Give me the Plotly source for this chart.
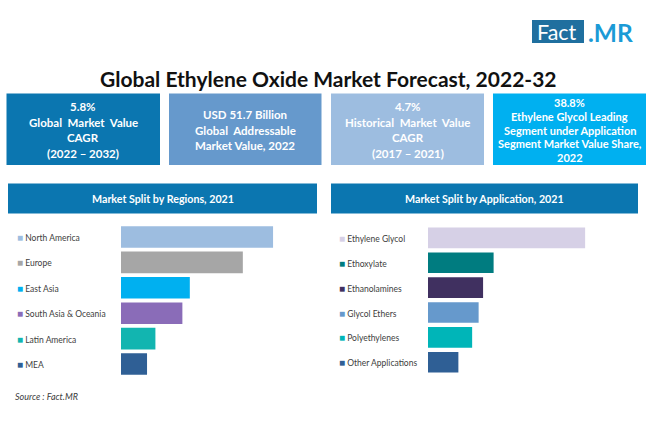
import plotly.graph_objects as go

W, H = 650, 443
FONT = "Lato"

# ============================
# data (share in %)
# ============================
regioes = ["North America", "Europe", "East Asia", "South Asia & Oceania", "Latin America", "MEA"]
regioes_valor = [32.7, 26.2, 14.8, 13.2, 7.4, 5.6]
regioes_cor = ["#9dbde0", "#a6a6a6", "#00b0f0", "#8a6cb8", "#12b5b0", "#2f5f95"]

aplicacoes = ["Ethylene Glycol", "Ethoxylate", "Ethanolamines", "Glycol Ethers", "Polyethylenes", "Other Applications"]
aplicacoes_valor = [38.8, 16.2, 13.6, 12.5, 10.9, 7.5]
aplicacoes_cor = ["#d6d0e6", "#007c80", "#403060", "#6699cc", "#00b5b8", "#2f5f95"]

cards = [
    ["5.8%", "Global  Market  Value", "CAGR", "(2022 – 2032)"],
    ["USD 51.7 Billion", "Global  Addressable", "Market Value, 2022"],
    ["4.7%", "Historical  Market  Value", "CAGR", "(2017 – 2021)"],
    ["38.8%", "Ethylene Glycol Leading", "Segment under Application", "Segment Market Value Share,", "2022"],
]
cards_cor = ["#0b76b0", "#6699cc", "#9dbde0", "#00b0f0"]
cards_x = [(6.5, 160), (169, 321.5), (331, 484), (493, 646)]


def px_x(x):
    return x / W


def px_y(y):
    return 1 - y / H


def caixa(x0, y0, x1, y1, cor):
    return dict(type="rect", xref="paper", yref="paper", layer="below",
                x0=px_x(x0), x1=px_x(x1), y0=px_y(y1), y1=px_y(y0),
                fillcolor=cor, line_width=0)


def texto(x, y, txt, size, cor="#ffffff", bold=False, anchor="center", italic=False):
    if bold:
        txt = "<b>" + txt + "</b>"
    if italic:
        txt = "<i>" + txt + "</i>"
    return dict(xref="paper", yref="paper", x=px_x(x), y=px_y(y), text=txt, showarrow=False,
                xanchor=anchor, yanchor="middle", align=anchor,
                font=dict(family=FONT, size=size, color=cor))


fig = go.Figure()

# ============================
# bars
# ============================
fig.add_trace(go.Bar(x=regioes_valor, y=regioes, orientation="h", xaxis="x", yaxis="y",
                     marker=dict(color=regioes_cor, line_width=0), width=0.85, showlegend=False))
fig.add_trace(go.Bar(x=aplicacoes_valor, y=aplicacoes, orientation="h", xaxis="x2", yaxis="y2",
                     marker=dict(color=aplicacoes_cor, line_width=0), width=0.83, showlegend=False))

eixo_x = dict(visible=False, fixedrange=True)
eixo_y = dict(visible=False, autorange=False, fixedrange=True)

fig.update_layout(
    width=W, height=H,
    margin=dict(l=0, r=0, t=0, b=0),
    paper_bgcolor="white", plot_bgcolor="white",
    xaxis=dict(eixo_x, domain=[px_x(121), px_x(300)], range=[0, 179 / 4.65]),
    yaxis=dict(eixo_y, domain=[px_y(376.7), px_y(224.3)], range=[5.5, -0.5], categoryorder="array", categoryarray=regioes),
    xaxis2=dict(eixo_x, domain=[px_x(428), px_x(630)], range=[0, 202 / 4.05], anchor="y2"),
    yaxis2=dict(eixo_y, domain=[px_y(374.7), px_y(225.5)], range=[5.5, -0.5], anchor="x2", categoryorder="array", categoryarray=aplicacoes),
)

# ============================
# boxes and text
# ============================
shapes = [caixa(532, 20, 584, 43, "#1f6f9f")]
notas = [
    texto(557, 32, "Fact", 21.5, "#ffffff"),
    texto(586, 32, ".MR", 24.5, "#1b9ad6", bold=True, anchor="left"),
    texto(328, 78, "Global Ethylene Oxide Market Forecast, 2022-32", 21, "#111111", bold=True),
]

for linhas, cor, (x0, x1) in zip(cards, cards_cor, cards_x):
    shapes.append(caixa(x0, 93.5, x1, 165, cor))
    # line pitch is tighter on the 5 line card
    passo = 13.9 if len(linhas) == 5 else 15.7
    tam = 11 if len(linhas) == 5 else 11.5
    y0 = 130 - passo * (len(linhas) - 1) / 2
    for i, linha in enumerate(linhas):
        notas.append(texto((x0 + x1) / 2, y0 + i * passo, linha, tam, bold=True))

for x0, x1, txt in [(8, 317, "Market Split by Regions, 2021"), (331, 638, "Market Split by Application, 2021")]:
    shapes.append(caixa(x0, 183.5, x1, 213.5, "#0b76b0"))
    notas.append(texto((x0 + x1) / 2, 198, txt, 10.7, bold=True))


def rotulos(nomes, cores, x, yref):
    saida = []
    for nome, cor in zip(nomes, cores):
        saida.append(dict(xref="paper", yref=yref, x=px_x(x), y=nome, showarrow=False,
                          xanchor="left", yanchor="middle",
                          text=f'<span style="color:{cor};font-size:10px">■</span> {nome}',
                          font=dict(family=FONT, size=8.5, color="#404040")))
    return saida


notas += rotulos(regioes, regioes_cor, 15, "y")
notas += rotulos(aplicacoes, aplicacoes_cor, 337, "y2")
notas.append(texto(13, 396, "Source : Fact.MR", 9, "#404040", anchor="left", italic=True))

fig.update_layout(shapes=shapes, annotations=notas)

# sem margem do body, a figura fica alinhada com a janela
fig.write_html("out.html", config={"displayModeBar": False},
               post_script="document.body.style.margin='0';")
